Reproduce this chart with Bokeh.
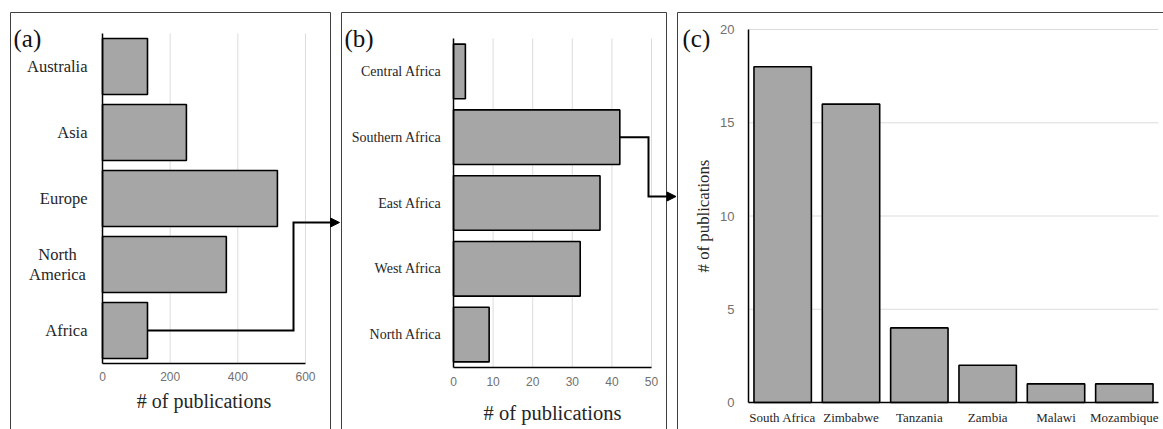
from bokeh.plotting import figure
from bokeh.models import Range1d, FixedTicker, Arrow, NormalHead, Label, LinearAxis, ColumnDataSource
from bokeh.core.properties import value
from bokeh.embed import file_html
from bokeh.resources import INLINE

# ---------------- data ----------------
# panel (a): continents, listed bottom -> top
regions_a = ["Africa", "North America", "Europe", "Asia", "Australia"]
pubs_a = [133, 366, 517, 248, 133]
ticks_a = [0, 200, 400, 600]

# panel (b): African regions, listed bottom -> top
regions_b = ["North Africa", "West Africa", "East Africa", "Southern Africa", "Central Africa"]
pubs_b = [9, 32, 37, 42, 3]
ticks_b = [0, 10, 20, 30, 40, 50]

# panel (c): Southern African countries
countries_c = ["South Africa", "Zimbabwe", "Tanzania", "Zambia", "Malawi", "Mozambique"]
pubs_c = [18, 16, 4, 2, 1, 1]
ticks_c = [0, 5, 10, 15, 20]

axis_title = "# of publications"
panel_tags = ["(a)", "(b)", "(c)"]

# ---------------- style / layout ----------------
SERIF = "Liberation Serif"
SANS = "Liberation Sans"
BAR_FILL = "#a6a6a6"
GRID = "#dcdcdc"
TICK_COL = "#707070"
LAB_COL = "#262626"
BOX_COL = "#404040"

# canvas in page pixels (the Bokeh page template has no body margin)
X0, X1, Y0, Y1 = 0, 1163, 0, 429
W, H = X1 - X0, Y1 - Y0

def lin(p, p0, p1, v0, v1):
    return v0 + (p - p0) * (v1 - v0) / (p1 - p0)

# plot areas in page pixels: (left, right, bottom, top) and their data spans
A_PX = (102, 305, 363, 33); A_X = (ticks_a[0], ticks_a[-1]); A_Y = (0, len(regions_a))
B_PX = (453, 651, 367, 38); B_X = (ticks_b[0], ticks_b[-1]); B_Y = (0, len(regions_b))
C_PX = (748, 1158, 402, 29); C_X = (0, len(countries_c)); C_Y = (ticks_c[0], ticks_c[-1])

def xr(px, span):
    return Range1d(lin(X0, px[0], px[1], *span), lin(X1, px[0], px[1], *span))
def yr(px, span):
    return Range1d(lin(Y1, px[2], px[3], *span), lin(Y0, px[2], px[3], *span))

p = figure(width=W, height=H, output_backend="svg", toolbar_location=None,
           x_range=Range1d(X0, X1), y_range=Range1d(Y1, Y0),
           min_border=0, min_border_left=0, min_border_right=0,
           min_border_top=0, min_border_bottom=0)
p.xaxis.visible = False
p.yaxis.visible = False
p.xgrid.visible = False
p.ygrid.visible = False
p.outline_line_color = None
p.background_fill_color = "white"
p.border_fill_color = "white"

p.extra_x_ranges = {"ax": xr(A_PX, A_X), "bx": xr(B_PX, B_X), "cx": xr(C_PX, C_X)}
p.extra_y_ranges = {"ay": yr(A_PX, A_Y), "by": yr(B_PX, B_Y), "cy": yr(C_PX, C_Y)}

def px_to(pxbox, span, x=None, y=None):
    if x is not None:
        return lin(x, pxbox[0], pxbox[1], *span)
    return lin(y, pxbox[2], pxbox[3], *span)

def style_axis(ax, tick_font, tick_size, tick_col, standoff):
    ax.axis_line_color = "black"
    ax.axis_line_width = 1.5
    ax.major_tick_line_color = None
    ax.minor_tick_line_color = None
    ax.major_tick_out = 0
    ax.major_tick_in = 0
    ax.major_label_text_font = tick_font
    ax.major_label_text_font_size = tick_size
    ax.major_label_text_color = tick_col
    ax.major_label_standoff = standoff

def title_axis(ax, size, standoff):
    ax.axis_label = axis_title
    ax.axis_label_text_font = SERIF
    ax.axis_label_text_font_style = "normal"
    ax.axis_label_text_font_size = size
    ax.axis_label_text_color = LAB_COL
    ax.axis_label_standoff = standoff

def polyline(xs, ys, xname, yname, color="black", width=2):
    p.line(x=xs, y=ys, x_range_name=xname, y_range_name=yname,
           line_color=color, line_width=width, line_join="miter")

def head(x0, y0, x1, y1, xname, yname):
    p.add_layout(Arrow(x_start=x0, y_start=y0, x_end=x1, y_end=y1,
                       x_range_name=xname, y_range_name=yname,
                       end=NormalHead(size=9, fill_color="black", line_color="black", line_width=1),
                       line_color="black", line_width=2))

# ---------- panel boxes (page coords) ----------
for xs, ys in [([10, 10, 330, 330], [440, 12, 12, 440]),
               ([341, 341, 666, 666], [440, 12, 12, 440]),
               ([677, 677, 1170], [440, 12, 12])]:
    p.line(x=xs, y=ys, line_color=BOX_COL, line_width=1)

for tag, (tx, ty) in zip(panel_tags, [(13, 24), (344, 24), (682, 24)]):
    p.add_layout(Label(x=tx, y=ty, text=tag, text_baseline="top", text_align="left",
                       text_font=SERIF, text_font_size="25px", text_color="#111111"))

# ================= panel (a) =================
ya = [i + 0.5 for i in range(len(regions_a))]
p.segment(x0=ticks_a[1:], y0=[A_Y[0]] * 3, x1=ticks_a[1:], y1=[A_Y[1]] * 3,
          x_range_name="ax", y_range_name="ay", line_color=GRID, line_width=1)
p.hbar(source=ColumnDataSource(dict(y=ya, right=pubs_a, region=regions_a)),
       y="y", right="right", left=0, height=0.85,
       x_range_name="ax", y_range_name="ay",
       fill_color=BAR_FILL, line_color="black", line_width=1.6)

axa = LinearAxis(x_range_name="ax", y_range_name="ay", fixed_location=A_Y[0],
                 bounds=A_X, ticker=FixedTicker(ticks=ticks_a))
style_axis(axa, SANS, "12px", TICK_COL, 8)
title_axis(axa, "20px", 6)
p.add_layout(axa, "below")

yaxa = LinearAxis(x_range_name="ax", y_range_name="ay", fixed_location=A_X[0],
                  bounds=A_Y, ticker=FixedTicker(ticks=ya))
style_axis(yaxa, SERIF, "16.5px", LAB_COL, 15)
overr = {y: r for y, r in zip(ya, regions_a)}
overr[ya[regions_a.index("North America")]] = ""
yaxa.major_label_overrides = overr
p.add_layout(yaxa, "left")

# two-line label for North America
yna = ya[regions_a.index("North America")]
dy = 10 / (A_PX[2] - A_PX[3]) * (A_Y[1] - A_Y[0])
p.text(x=[px_to(A_PX, A_X, x=57)] * 2, y=[yna + dy, yna - dy], text=["North", "America"],
       x_range_name="ax", y_range_name="ay", text_align="center", text_baseline="middle",
       text_font=value(SERIF), text_font_size="16.5px", text_color=LAB_COL)

# connector Africa -> panel (b)
iaf = regions_a.index("Africa")
ex = px_to(A_PX, A_X, x=293)
ey = px_to(A_PX, A_Y, y=222)
endx = px_to(A_PX, A_X, x=331)
polyline([pubs_a[iaf], ex, ex, endx], [ya[iaf], ya[iaf], ey, ey], "ax", "ay")
head(endx, ey, px_to(A_PX, A_X, x=339), ey, "ax", "ay")

# ================= panel (b) =================
yb = [i + 0.5 for i in range(len(regions_b))]
p.segment(x0=ticks_b[1:], y0=[B_Y[0]] * 5, x1=ticks_b[1:], y1=[B_Y[1]] * 5,
          x_range_name="bx", y_range_name="by", line_color=GRID, line_width=1)
p.hbar(source=ColumnDataSource(dict(y=yb, right=pubs_b, region=regions_b)),
       y="y", right="right", left=0, height=0.83,
       x_range_name="bx", y_range_name="by",
       fill_color=BAR_FILL, line_color="black", line_width=1.6)

axb = LinearAxis(x_range_name="bx", y_range_name="by", fixed_location=B_Y[0],
                 bounds=B_X, ticker=FixedTicker(ticks=ticks_b))
style_axis(axb, SANS, "12px", TICK_COL, 9)
title_axis(axb, "20.5px", 13)
p.add_layout(axb, "below")

yaxb = LinearAxis(x_range_name="bx", y_range_name="by", fixed_location=B_X[0],
                  bounds=B_Y, ticker=FixedTicker(ticks=yb))
style_axis(yaxb, SERIF, "14px", LAB_COL, 12)
yaxb.major_label_overrides = {y: r for y, r in zip(yb, regions_b)}
p.add_layout(yaxb, "left")

isa = regions_b.index("Southern Africa")
bex = px_to(B_PX, B_X, x=648)
bey = px_to(B_PX, B_Y, y=196)
bendx = px_to(B_PX, B_X, x=667)
polyline([pubs_b[isa], bex, bex, bendx], [yb[isa], yb[isa], bey, bey], "bx", "by")
head(bendx, bey, px_to(B_PX, B_X, x=675.5), bey, "bx", "by")

# ================= panel (c) =================
xc = [i + 0.5 for i in range(len(countries_c))]
p.segment(x0=[C_X[0]] * 4, y0=ticks_c[1:], x1=[C_X[1]] * 4, y1=ticks_c[1:],
          x_range_name="cx", y_range_name="cy", line_color=GRID, line_width=1)
p.vbar(source=ColumnDataSource(dict(x=xc, top=pubs_c, country=countries_c)),
       x="x", top="top", bottom=0, width=0.84,
       x_range_name="cx", y_range_name="cy",
       fill_color=BAR_FILL, line_color="black", line_width=1.6)

yaxc = LinearAxis(x_range_name="cx", y_range_name="cy", fixed_location=C_X[0],
                  bounds=C_Y, ticker=FixedTicker(ticks=ticks_c))
style_axis(yaxc, SANS, "13px", TICK_COL, 14)
title_axis(yaxc, "16.8px", 4)
p.add_layout(yaxc, "left")

xaxc = LinearAxis(x_range_name="cx", y_range_name="cy", fixed_location=C_Y[0],
                  bounds=C_X, ticker=FixedTicker(ticks=xc))
style_axis(xaxc, SERIF, "13px", LAB_COL, 7)
xaxc.major_label_overrides = {x: c for x, c in zip(xc, countries_c)}
p.add_layout(xaxc, "below")

open("out.html", "w").write(file_html(p, INLINE))
